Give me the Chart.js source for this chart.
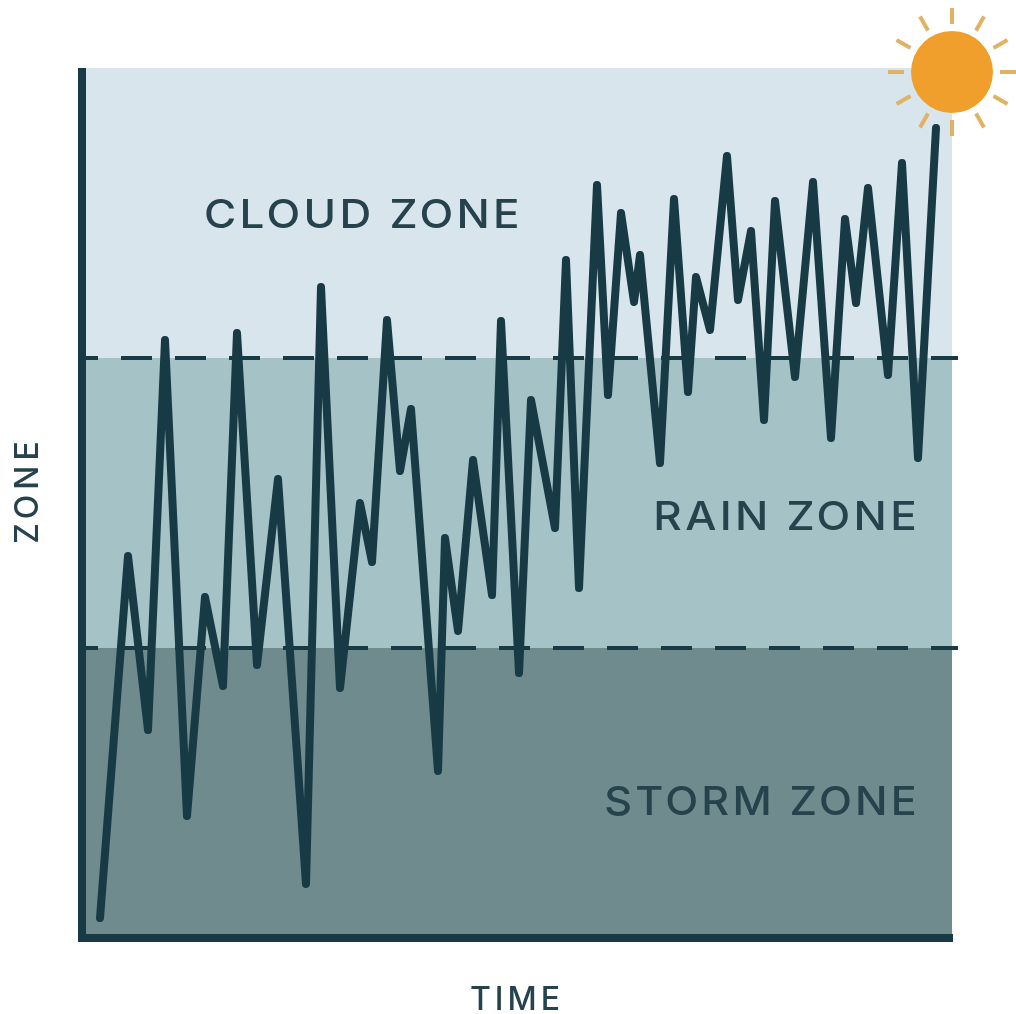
<!DOCTYPE html>
<html>
<head>
<meta charset="utf-8">
<title>Zone over time</title>
<script src="https://cdn.jsdelivr.net/npm/chart.js@4/dist/chart.umd.min.js"></script>
<style>
  html, body { margin: 0; padding: 0; background: #ffffff; }
  canvas { display: block; }
</style>
</head>
<body>
<canvas id="zoneChart" width="1016" height="1014"></canvas>
<script>
const timeValues = [1.8, 4.6, 6.6, 8.3, 10.5, 12.3, 14.1, 15.5, 17.5, 19.6, 22.4, 23.9, 25.8, 27.8, 29.0, 30.5, 31.8, 32.9, 35.6, 36.3, 37.6, 39.1, 41.0, 41.9, 43.7, 44.9, 47.3, 48.4, 49.7, 51.5, 52.6, 53.9, 55.2, 55.8, 57.8, 59.2, 60.6, 61.4, 62.8, 64.5, 65.6, 66.9, 68.2, 69.3, 71.3, 73.1, 74.9, 76.3, 77.4, 78.6, 80.6, 82.0, 83.6, 85.4];
const zoneValues = [2.0, 38.2, 20.8, 59.8, 12.2, 34.1, 25.2, 60.5, 27.3, 45.9, 5.4, 65.1, 25.0, 43.5, 37.6, 61.8, 46.7, 52.9, 16.7, 40.0, 30.7, 47.8, 34.3, 61.7, 26.5, 53.8, 41.0, 67.8, 35.0, 75.3, 54.3, 72.5, 63.6, 68.3, 47.5, 73.9, 54.6, 66.1, 60.8, 78.2, 63.8, 70.7, 51.8, 73.7, 56.1, 75.6, 50.0, 71.9, 63.5, 75.0, 56.3, 77.5, 48.0, 81.0];

const zoneEdges = [0, 29, 58, 87];
const zoneColors = ['#6f8b8d', '#a5c2c7', '#d8e5ec'];
const thresholds = [29, 58];
const zoneNames = ['STORM ZONE', 'RAIN ZONE', 'CLOUD ZONE'];

const dark = '#173a44';
const textColor = '#26424c';

function zoneLabel(ctx, text, x, y, align, stretch) {
  ctx.save();
  ctx.translate(x, y);
  ctx.scale(stretch, 1);
  ctx.textAlign = align;
  ctx.fillText(text, 0, 0);
  ctx.restore();
}

const zonePlugin = {
  id: 'zones',
  beforeDraw(chart) {
    const { ctx, chartArea, scales } = chart;
    ctx.letterSpacing = '4px';
    ctx.save();
    zoneColors.forEach((c, i) => {
      const top = scales.y.getPixelForValue(zoneEdges[i + 1]);
      const bottom = scales.y.getPixelForValue(zoneEdges[i]);
      ctx.fillStyle = c;
      ctx.fillRect(chartArea.left, top, chartArea.right - chartArea.left, bottom - top);
    });

    // zone labels
    ctx.fillStyle = textColor;
    ctx.font = '500 40px Inter';
    ctx.letterSpacing = '3px';
    ctx.textBaseline = 'middle';
    zoneLabel(ctx, zoneNames[0], 920, 803, 'right', 1.075);
    zoneLabel(ctx, zoneNames[1], 920, 518, 'right', 1.1);
    zoneLabel(ctx, zoneNames[2], 204, 216, 'left', 1.1);

    // y axis title sits above the axis centre
    ctx.font = '500 32px Inter';
    ctx.letterSpacing = '5px';
    ctx.textAlign = 'center';
    ctx.translate(28, 490);
    ctx.rotate(-Math.PI / 2);
    ctx.fillText('ZONE', 0, 0);
    ctx.restore();
  },
  afterDraw(chart) {
    const { ctx, chartArea, scales } = chart;
    ctx.save();
    // trim the axis overshoot above the plot
    ctx.fillStyle = '#ffffff';
    ctx.fillRect(chartArea.left - 6, chartArea.top - 6, 12, 6);

    // sun in the top right corner
    const cx = scales.x.getPixelForValue(87);
    const cy = scales.y.getPixelForValue(86.6);
    ctx.strokeStyle = '#e0b264';
    ctx.lineWidth = 4;
    for (let a = 0; a < 12; a++) {
      const t = a * Math.PI / 6;
      ctx.beginPath();
      ctx.moveTo(cx + Math.cos(t) * 48, cy + Math.sin(t) * 48);
      ctx.lineTo(cx + Math.cos(t) * 64, cy + Math.sin(t) * 64);
      ctx.stroke();
    }
    ctx.fillStyle = '#f09f2d';
    ctx.beginPath();
    ctx.arc(cx, cy, 41, 0, Math.PI * 2);
    ctx.fill();
    ctx.restore();
  }
};

const dashedLines = thresholds.map(v => ({
  data: [{ x: 0, y: v }, { x: 87.6, y: v }],
  borderColor: dark,
  borderWidth: 4,
  borderDash: [31, 23],
  borderDashOffset: 15,
  pointRadius: 0,
  clip: false,
  order: 2
}));

new Chart(document.getElementById('zoneChart'), {
  type: 'line',
  data: {
    datasets: [
      ...dashedLines,
      {
        data: timeValues.map((t, i) => ({ x: t, y: zoneValues[i] })),
        borderColor: dark,
        borderWidth: 8,
        borderJoinStyle: 'round',
        borderCapStyle: 'round',
        tension: 0,
        pointRadius: 0,
        clip: false,
        order: 1
      }
    ]
  },
  options: {
    responsive: false,
    animation: false,
    layout: { padding: { top: 68, right: 64, left: 0, bottom: 0 } },
    plugins: { legend: { display: false }, tooltip: { enabled: false } },
    scales: {
      x: {
        type: 'linear',
        min: 0,
        max: 87,
        afterFit(scale) { scale.height = 76; },
        grid: { display: false, drawTicks: false },
        border: { color: dark, width: 8 },
        ticks: { display: false },
        title: { display: true, text: 'TIME', color: textColor, font: { family: 'Inter', size: 32, weight: '500' }, padding: { top: 0, bottom: -6 } }
      },
      y: {
        type: 'linear',
        min: 0,
        max: 87,
        afterFit(scale) { scale.width = 82; },
        grid: { display: false, drawTicks: false },
        border: { color: dark, width: 8 },
        ticks: { display: false }
      }
    }
  },
  plugins: [zonePlugin]
});
</script>
</body>
</html>
